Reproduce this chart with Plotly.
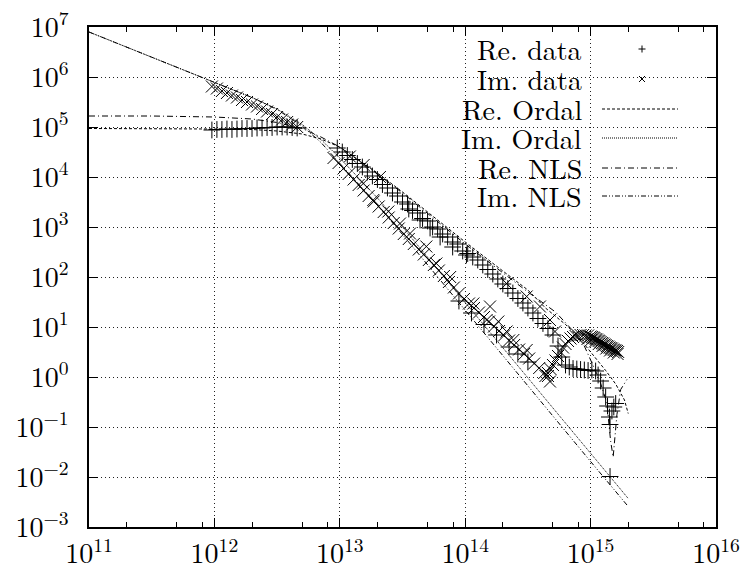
import plotly.graph_objects as go

# ---------------- data (log10 of frequency, log10 of |epsilon|) ----------------
re_data_logx = [11.98, 12.02, 12.06, 12.10, 12.14, 12.18, 12.22, 12.26, 12.30, 12.34, 12.38, 12.42,
                12.46, 12.50, 12.54, 12.58, 12.62, 12.66,
                12.98, 13.02, 13.06, 13.10, 13.14, 13.18, 13.22, 13.26, 13.30, 13.34, 13.38, 13.42,
                13.46, 13.50, 13.54, 13.58, 13.62, 13.66, 13.70, 13.74, 13.78, 13.82, 13.86, 13.90,
                13.94, 13.98, 14.02, 14.06, 14.10, 14.14, 14.18, 14.22, 14.26, 14.30, 14.34, 14.38,
                14.42, 14.46, 14.50, 14.54, 14.58, 14.62, 14.66, 14.70, 14.74, 14.77, 14.80, 14.83,
                14.86, 14.89, 14.92, 14.95, 14.98, 15.01, 15.04, 15.06, 15.08, 15.10, 15.12, 15.135,
                15.15, 15.155, 15.17, 15.185, 15.20, 15.155,
                13.55, 13.64, 13.72, 13.80, 13.90, 14.01,
                13.95, 14.05, 14.15, 14.25, 14.35, 14.42, 14.50]
re_data_logy = [4.94, 4.95, 4.95, 4.96, 4.95, 4.96, 4.97, 4.97, 4.97, 4.98, 4.98, 4.99,
                4.99, 5.00, 5.00, 5.00, 4.99, 4.98,
                4.58, 4.50, 4.43, 4.35, 4.27, 4.20, 4.10, 4.02, 3.95, 3.85, 3.78, 3.68,
                3.62, 3.50, 3.46, 3.33, 3.28, 3.17, 3.12, 3.00, 2.96, 2.86, 2.80, 2.70,
                2.66, 2.52, 2.47, 2.40, 2.34, 2.24, 2.15, 2.06, 1.96, 1.86, 1.77, 1.68,
                1.57, 1.48, 1.38, 1.28, 1.17, 1.07, 0.97, 0.84, 0.62, 0.40, 0.24, 0.20,
                0.17, 0.16, 0.15, 0.14, 0.13, 0.14, 0.12, 0.04, -0.08, -0.22, -0.40, -0.58,
                -0.80, -0.95, -0.68, -0.60, -0.53, -1.99,
                3.36, 3.14, 2.98, 2.80, 2.60, 2.44,
                1.52, 1.28, 1.05, 0.84, 0.60, 0.46, 0.30]

im_data_logx = [11.98, 12.02, 12.06, 12.10, 12.14, 12.18, 12.22, 12.26, 12.30, 12.34, 12.38, 12.42,
                12.46, 12.50, 12.54, 12.58, 12.62, 12.66,
                12.95, 12.99, 13.03, 13.07, 13.11, 13.15, 13.19, 13.23, 13.27, 13.31, 13.35, 13.39,
                13.43, 13.47, 13.51, 13.55, 13.59, 13.63, 13.67, 13.71, 13.75, 13.79, 13.83, 13.87,
                13.91, 13.95, 13.99, 14.03, 14.07, 14.11, 14.15, 14.19, 14.23, 14.27, 14.31, 14.35,
                14.39, 14.43, 14.47, 14.51, 14.55, 14.59, 14.63, 14.66, 14.676,
                14.64, 14.66, 14.68, 14.70, 14.72, 14.74, 14.76, 14.78, 14.80, 14.82, 14.84, 14.86,
                14.88, 14.90, 14.92, 14.94, 14.96, 14.98, 15.00, 15.01, 15.02, 15.03, 15.04, 15.05,
                15.06, 15.07, 15.08, 15.09, 15.10, 15.11, 15.12, 15.13, 15.14, 15.15, 15.16, 15.17,
                15.18, 15.19, 15.20, 15.21, 15.22,
                14.975, 15.005, 15.035, 15.065, 15.095, 15.125, 15.155, 15.185, 15.215,
                13.08, 13.19, 13.32, 13.187, 13.267, 13.387, 13.48, 13.56, 13.69, 13.77, 13.88,
                14.065, 14.171, 14.198, 14.264, 14.33, 14.384, 14.49,
                14.33, 14.49, 14.596, 14.676, 14.716]
im_data_logy = [5.81, 5.77, 5.72, 5.68, 5.63, 5.59, 5.54, 5.50, 5.45, 5.41, 5.36, 5.31,
                5.26, 5.20, 5.15, 5.10, 5.05, 5.00,
                4.38, 4.28, 4.17, 4.06, 3.95, 3.84, 3.73, 3.62, 3.51, 3.41, 3.30, 3.19,
                3.08, 2.97, 2.86, 2.76, 2.66, 2.55, 2.45, 2.34, 2.24, 2.13, 2.02, 1.90,
                1.79, 1.67, 1.56, 1.47, 1.38, 1.29, 1.20, 1.11, 1.01, 0.92, 0.83, 0.73,
                0.64, 0.55, 0.46, 0.37, 0.27, 0.18, 0.08, 0.02, -0.09,
                0.02, 0.08, 0.16, 0.24, 0.33, 0.42, 0.50, 0.59, 0.66, 0.72, 0.77, 0.80,
                0.82, 0.83, 0.84, 0.84, 0.83, 0.83, 0.81, 0.80, 0.79, 0.78, 0.76, 0.75,
                0.73, 0.72, 0.70, 0.68, 0.67, 0.65, 0.64, 0.62, 0.61, 0.59, 0.58, 0.57,
                0.55, 0.54, 0.53, 0.52, 0.50,
                0.76, 0.74, 0.71, 0.66, 0.62, 0.57, 0.53, 0.49, 0.46,
                4.41, 4.24, 4.00, 3.87, 3.54, 3.31, 3.07, 2.87, 2.61, 2.27, 2.00,
                1.47, 1.14, 1.41, 1.11, 0.91, 0.74, 0.54,
                1.87, 1.61, 1.41, 1.14, 0.91]

re_ordal_logx = [11, 11.5, 12, 12.3, 12.5, 12.7, 12.85, 13, 13.3, 13.5, 14, 14.3, 14.5, 14.64,
                 14.8, 14.9, 14.98, 15.05, 15.12, 15.2, 15.27, 15.3]
re_ordal_logy = [4.97, 4.97, 4.96, 4.95, 4.92, 4.86, 4.76, 4.60, 4.08, 3.70, 2.70, 2.12, 1.74, 1.38,
                 1.05, 0.81, 0.56, 0.36, 0.13, -0.14, -0.46, -0.73]

im_ordal_logx = [11, 11.5, 12, 12.3, 12.5, 12.7, 12.85, 13, 13.3, 13.5, 14, 14.5, 15, 15.3]
im_ordal_logy = [6.90, 6.40, 5.90, 5.59, 5.36, 5.05, 4.75, 4.38, 3.58, 3.00, 1.49, -0.02, -1.53, -2.43]

re_nls_logx = [11, 11.5, 12, 12.3, 12.5, 12.7, 12.85, 13, 13.3, 13.5, 14, 14.3, 14.5, 14.72, 14.85,
               14.95, 15.01, 15.07, 15.13, 15.16, 15.18, 15.21, 15.24, 15.27, 15.29]
re_nls_logy = [5.22, 5.22, 5.20, 5.16, 5.09, 4.97, 4.80, 4.60, 4.06, 3.68, 2.66, 2.08, 1.70, 1.30, 0.95,
               0.62, 0.30, -0.05, -0.52, -1.29, -1.60, -0.75, -0.25, -0.12, -0.05]

im_nls_logx = [11, 11.5, 12, 12.3, 12.5, 12.7, 12.85, 13, 13.3, 13.5, 14, 14.5, 15, 15.3]
im_nls_logy = [6.90, 6.40, 5.90, 5.59, 5.35, 5.02, 4.69, 4.28, 3.44, 2.85, 1.33, -0.18, -1.69, -2.59]

x_tick_exp = [11, 12, 13, 14, 15, 16]
y_tick_exp = [-3, -2, -1, 0, 1, 2, 3, 4, 5, 6, 7]
legend_labels = ["Re. data", "Im. data", "Re. Ordal", "Im. Ordal", "Re. NLS", "Im. NLS"]


def p10(v):
    return [10 ** a for a in v]


def sup(e):
    return "10<sup>" + (str(e) if e >= 0 else "\u2212" + str(-e)) + "</sup>"


FONT = "Latin Modern Roman"
BLK = "black"

fig = go.Figure()
mk = dict(size=12, color=BLK, line=dict(width=1, color=BLK))
fig.add_trace(go.Scatter(x=p10(re_ordal_logx), y=p10(re_ordal_logy), mode="lines",
                         line=dict(color=BLK, width=1, dash="3px,2px")))
fig.add_trace(go.Scatter(x=p10(im_ordal_logx), y=p10(im_ordal_logy), mode="lines",
                         line=dict(color=BLK, width=1, dash="1px,1px")))
fig.add_trace(go.Scatter(x=p10(re_nls_logx), y=p10(re_nls_logy), mode="lines",
                         line=dict(color=BLK, width=1, dash="6px,3px,1px,3px")))
fig.add_trace(go.Scatter(x=p10(im_nls_logx), y=p10(im_nls_logy), mode="lines",
                         line=dict(color=BLK, width=1, dash="5px,2px,1px,2px,1px,2px")))
fig.add_trace(go.Scatter(x=p10(re_data_logx), y=p10(re_data_logy), mode="markers",
                         marker=dict(symbol="cross-thin", **mk)))
fig.add_trace(go.Scatter(x=p10(im_data_logx), y=p10(im_data_logy), mode="markers",
                         marker=dict(symbol="x-thin", **mk)))

minor_x = []
for e in x_tick_exp[:-1]:
    for m in (2, 5, 8):
        minor_x.append(m * 10 ** e)

grid = dict(showgrid=True, gridcolor="#222", griddash="1px,3px", gridwidth=1)
TICKFONT = dict(family=FONT, size=28, color=BLK)
fig.update_xaxes(type="log", range=[11, 16], tickmode="array",
                 tickvals=[10 ** e for e in x_tick_exp], ticktext=[sup(e) for e in x_tick_exp],
                 ticks="inside", ticklen=9, tickwidth=1, tickcolor=BLK,
                 showline=True, linecolor=BLK, linewidth=1.5, mirror="ticks",
                 tickfont=TICKFONT, ticklabelstandoff=1,
                 minor=dict(tickvals=minor_x, ticks="inside", ticklen=5, tickcolor=BLK, showgrid=False),
                 zeroline=False, automargin=False, **grid)
fig.update_yaxes(type="log", range=[-3, 7], tickmode="array",
                 tickvals=[10 ** e for e in y_tick_exp], ticktext=[sup(e) for e in y_tick_exp],
                 ticks="inside", ticklen=9, tickwidth=1, tickcolor=BLK,
                 showline=True, linecolor=BLK, linewidth=1.5, mirror="ticks",
                 tickfont=TICKFONT, ticklabelstandoff=13,
                 zeroline=False, automargin=False, **grid)

# legend (text right-aligned, sample on the right, opaque box)
L, R, T, B = 89, 28, 27, 40
W, H = 744 - L - R, 567 - T - B


def px(x):
    return (x - L) / W


def py(y):
    return (567 - B - y) / H


shapes = [dict(type="rect", xref="paper", yref="paper", x0=px(407), x1=px(698), y0=py(210), y1=1,
               fillcolor="white", line=dict(width=0), layer="between")]
annotations = []
row_y = [48, 78, 108, 137, 167, 195]
dashes = [None, None, "3px,2px", "1px,1px", "6px,3px,1px,3px", "5px,2px,1px,2px,1px,2px"]
for i, lab in enumerate(legend_labels):
    annotations.append(dict(text=lab, xref="paper", yref="paper", x=px(584), y=py(row_y[i]),
                            xanchor="right", yanchor="middle", showarrow=False,
                            font=dict(family=FONT, size=28, color=BLK)))
    ry = row_y[i] + 1
    if i == 0:
        for (a, b, c, d) in [(638.5, ry, 645.5, ry), (642, ry - 3.5, 642, ry + 3.5)]:
            shapes.append(dict(type="line", xref="paper", yref="paper", x0=px(a), x1=px(c),
                               y0=py(b), y1=py(d), line=dict(color=BLK, width=1)))
    elif i == 1:
        for (a, b, c, d) in [(639, ry - 3, 645, ry + 3), (639, ry + 3, 645, ry - 3)]:
            shapes.append(dict(type="line", xref="paper", yref="paper", x0=px(a), x1=px(c),
                               y0=py(b), y1=py(d), line=dict(color=BLK, width=1)))
    else:
        shapes.append(dict(type="line", xref="paper", yref="paper", x0=px(602), x1=px(678),
                           y0=py(ry), y1=py(ry),
                           line=dict(color=BLK, width=1, dash=dashes[i])))

fig.update_layout(width=744, height=567, margin=dict(l=L, r=R, t=T, b=B),
                  paper_bgcolor="white", plot_bgcolor="white", showlegend=False,
                  font=dict(family=FONT, color=BLK),
                  shapes=shapes, annotations=annotations)

fig.write_html("out.html")
